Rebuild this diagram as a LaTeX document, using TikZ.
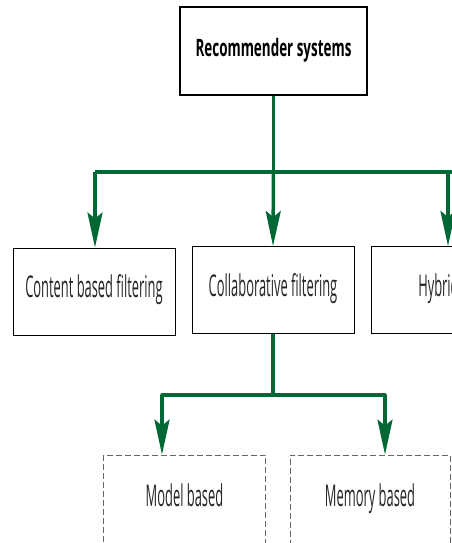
\documentclass[tikz,border=0pt]{standalone}
\usepackage{fontspec}
\setmainfont{Open Sans}[FakeStretch=0.43]
\newfontfamily\headfont{Open Sans}[FakeStretch=0.56]
\usetikzlibrary{positioning, arrows.meta}
\definecolor{treegreen}{RGB}{0,104,52}

\begin{document}
\begin{tikzpicture}[x=1pt, y=1pt,
    category/.style={rectangle, draw=black, line width=0.9pt, fill=white,
                     minimum width=162pt, minimum height=87pt, inner sep=0pt,
                     text height=20pt, text depth=7pt,
                     text=black!85, font=\fontsize{30}{34}\selectfont},
    method/.style={category, draw=black!60, dashed, dash pattern=on 6pt off 3pt,
                   line width=0.7pt, minimum height=90pt},
    branch/.style={draw=treegreen, line width=3.5pt},
    branchto/.style={branch, -{Stealth[length=35pt, width=15pt, inset=6pt]}}]
\useasboundingbox (0,0) rectangle (452,543);
\clip (0,0) rectangle (452,543);

\node[category, line width=1.3pt, minimum width=187pt, minimum height=88pt,
      text height=17pt, text depth=5pt,
      font=\headfont\bfseries\fontsize{24}{28}\selectfont, text=black] (rec) at (273.5,492) {Recommender systems};

\node[category] (content) at (94,251.5) {Content based filtering};
\node[category] (collab) at (273,253) {Collaborative filtering};
\node[category, minimum width=134pt, anchor=west] (hybrid) at (371,253) {Hybrid};

\node[method] (model) at (184.5,43) {Model based};
\node[method, minimum width=160pt] (memory) at (370,43) {Memory based};

% first level
\coordinate (bar left) at (95,371);
\coordinate (bar right) at (460,371);
\draw[branch] (rec.south) -- (rec.south |- bar left);
\draw[branch] (bar left) -- (bar right);
\draw[branchto] (bar left) -- (bar left |- content.north);
\draw[branchto] (rec.south |- bar left) -- (collab.north);
\draw[branchto] (448,371) -- (hybrid.north -| 448,0);

% second level
\coordinate (sub left) at (162,148);
\coordinate (sub right) at (385,148);
\draw[branch] (collab.south) -- (collab.south |- sub left);
\draw[branch, line cap=round] (sub left) -- (sub right);
\draw[branchto] (sub left) -- (sub left |- model.north);
\draw[branchto] (sub right) -- (sub right |- memory.north);
\end{tikzpicture}
\end{document}
